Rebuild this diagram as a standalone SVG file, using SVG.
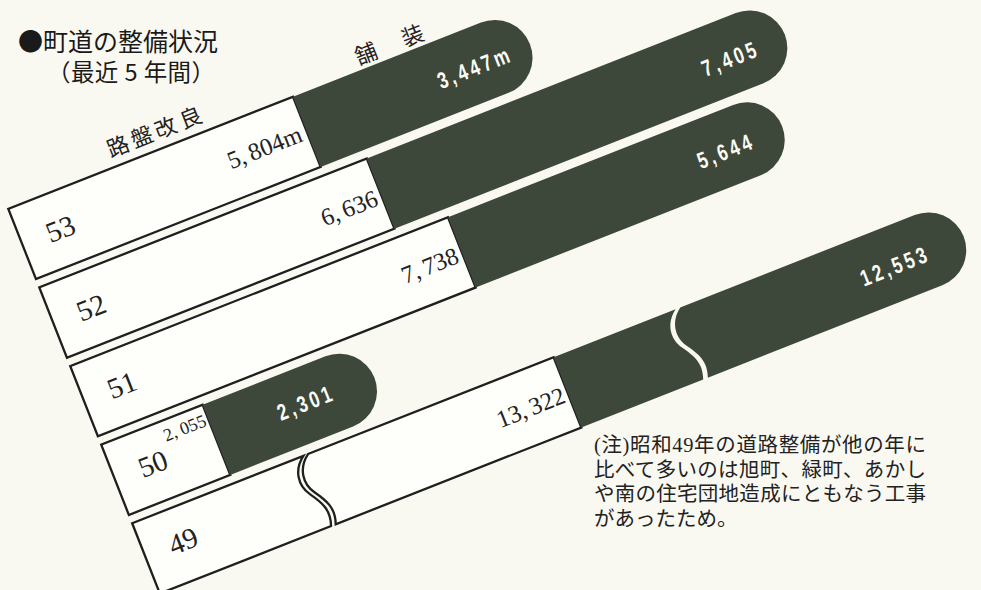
<svg xmlns="http://www.w3.org/2000/svg" width="981" height="590" viewBox="0 0 981 590">
<style>
.wb{fill:#fefefb;stroke:#1f1f1f;stroke-width:2.3;stroke-linejoin:miter}
.dk{fill:#3d483b}
.yr{font-family:"Liberation Serif",serif;font-size:29px;fill:#222;text-anchor:middle}
.wv{font-family:"Liberation Serif",serif;font-size:24.5px;fill:#222;text-anchor:end}
.sv{font-family:"Liberation Serif",serif;font-size:18px;fill:#222;text-anchor:end}
.dv{font-family:"Liberation Sans",sans-serif;font-size:23px;font-weight:bold;fill:#fbfbf5;text-anchor:middle;letter-spacing:4.5px}
.ttl{font-family:"Noto Sans CJK JP",sans-serif;font-size:25px;fill:#1a1a1a}
.ttl2{font-family:"Noto Sans CJK JP",sans-serif;font-size:23.5px;fill:#1a1a1a}
.lbl{font-family:"Noto Sans CJK JP",sans-serif;font-size:22px;fill:#222}
.note{font-family:"Liberation Serif","Noto Sans CJK JP",serif;font-size:20.5px;fill:#222}
</style>
<rect width="981" height="590" fill="#faf9f1"/>
<g id="title">
<text class="ttl" x="18" y="51">●町道の整備状況</text>
<text class="ttl2" x="47" y="81" textLength="168" lengthAdjust="spacing">（最近 5 年間）</text>
</g>
<g id="chart" transform="translate(8.3,208.8) rotate(-21.5)">
<g id="legend">
<text class="lbl" x="114 139.5 165 192" y="-10">路盤改良</text>
<text class="lbl" x="378.7 400 428.7" y="-5">舗 装</text>
</g>
<g id="bar53">
<rect class="wb" x="0" y="0" width="306" height="75.5"/>
<path class="dk" d="M306,0 H508 A37.75,37.75 0 0 1 508,75.5 H306 Z"/>
<text class="yr" x="41" y="47.6">53</text>
<text class="wv" x="300" y="45">5,<tspan dx="4">804m</tspan></text>
<text class="dv" transform="translate(486,47.5) scale(0.75,1)">3,447m</text>
</g>
<g id="bar52">
<rect class="wb" x="0" y="84.5" width="352" height="75.5"/>
<path class="dk" d="M352,84.5 H748.6 A37.75,37.75 0 0 1 748.6,160 H352 Z"/>
<text class="yr" x="41" y="132.1">52</text>
<text class="wv" x="347" y="132.5">6,<tspan dx="4">636</tspan></text>
<text class="dv" transform="translate(727,133) scale(0.75,1)">7,405</text>
</g>
<g id="bar51">
<rect class="wb" x="0" y="169" width="406" height="75.5"/>
<path class="dk" d="M406,169 H712.5 A37.75,37.75 0 0 1 712.5,244.5 H406 Z"/>
<text class="yr" x="41" y="215.5">51</text>
<text class="wv" x="401" y="215.5">7,<tspan dx="4">738</tspan></text>
<text class="dv" transform="translate(689,217) scale(0.75,1)">5,644</text>
</g>
<g id="bar50">
<rect class="wb" x="0" y="253.5" width="109" height="75.5"/>
<path class="dk" d="M109,253.5 H241 A37.75,37.75 0 0 1 241,329 H109 Z"/>
<text class="yr" x="41" y="300">50</text>
<text class="sv" x="106" y="274.5">2,<tspan dx="4">055</tspan></text>
<text class="dv" transform="translate(206,297.5) scale(0.75,1)">2,301</text>
</g>
<g id="bar49">
<path class="wb" d="M0,338 H184 C170,348 168,364 176,376 C184,388 190,398 184,413.5 H0 Z"/>
<path class="wb" d="M189,338 H453 V413.5 H189 C195,398 189,388 181,376 C173,364 175,348 189,338 Z"/>
<path class="dk" d="M453,338 H584 C570,348 568,364 576,376 C584,388 590,398 584,413.5 H453 Z"/>
<path class="dk" d="M589,338 H841 A37.75,37.75 0 0 1 841,413.5 H589 C595,398 589,388 581,376 C573,364 575,348 589,338 Z"/>
<text class="yr" x="41" y="383">49</text>
<text class="wv" x="449" y="384.5">13,<tspan dx="4">322</tspan></text>
<text class="dv" transform="translate(804,386) scale(0.75,1)">12,553</text>
</g>
</g>
<g id="note">
<text class="note" x="594" y="452" textLength="332" lengthAdjust="spacing">(注)昭和49年の道路整備が他の年に</text>
<text class="note" x="594" y="476.5" textLength="332" lengthAdjust="spacing">比べて多いのは旭町、緑町、あかし</text>
<text class="note" x="594" y="501" textLength="332" lengthAdjust="spacing">や南の住宅団地造成にともなう工事</text>
<text class="note" x="594" y="525.5">があったため。</text>
</g>
</svg>
